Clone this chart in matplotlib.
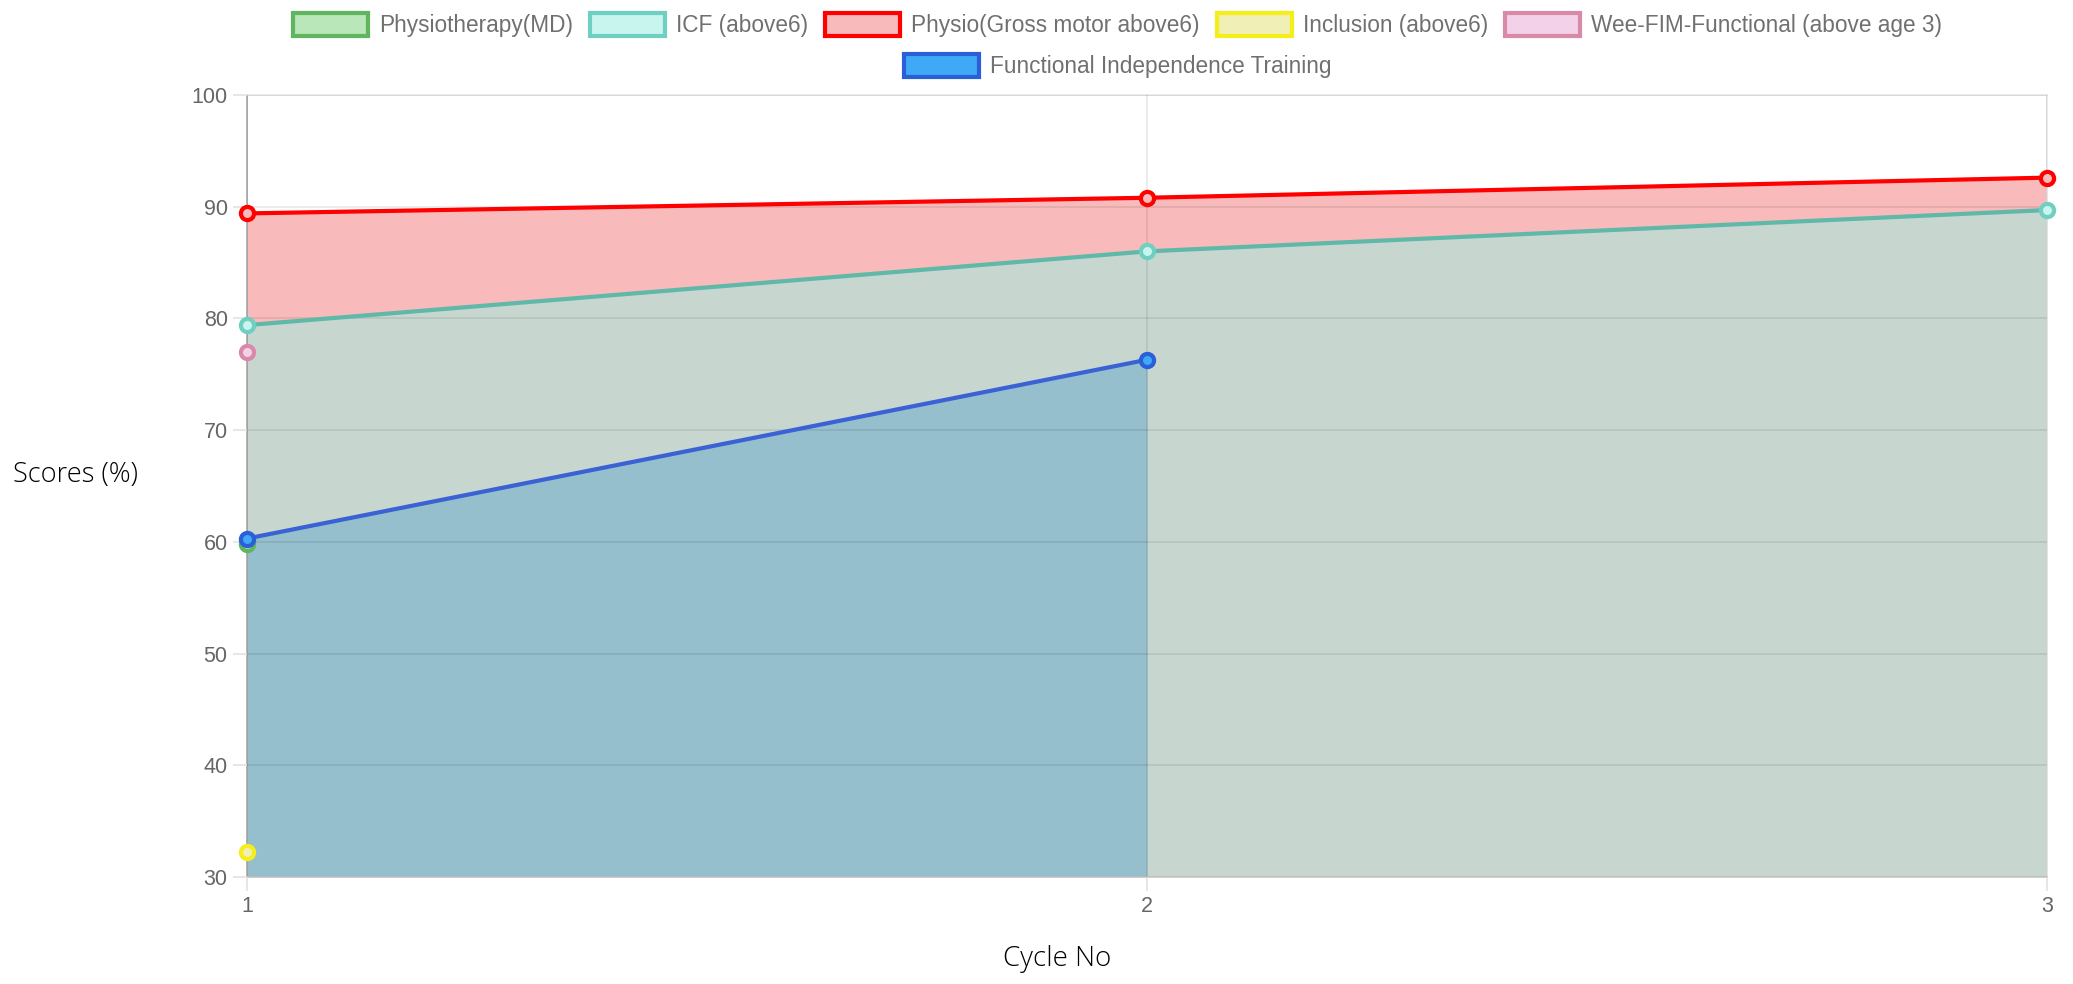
import matplotlib
matplotlib.use("Agg")
import matplotlib.pyplot as plt
from matplotlib.patches import Patch

# data
cycles = [1, 2, 3]
physio_md = [59.8]
icf = [79.4, 86.0, 89.7]
physio_gross = [89.4, 90.8, 92.6]
inclusion = [32.2]
wee_fim = [77.0]
fit = [60.3, 76.3]

y_ticks = [30, 40, 50, 60, 70, 80, 90, 100]

labels = ["Physiotherapy(MD)", "ICF (above6)", "Physio(Gross motor above6)",
          "Inclusion (above6)", "Wee-FIM-Functional (above age 3)",
          "Functional Independence Training"]
edge_colors = ["#5fb65f", "#6fd0c2", "#ff0000", "#f4ee1a", "#d98aa8", "#2a5fd8"]
face_colors = ["#b9e7b9", "#c9f5ef", "#f8baba", "#f0efb5", "#f3d1e8", "#3fa9f5"]

plt.rcParams['font.family'] = ['Liberation Sans', 'DejaVu Sans']

fig = plt.figure(figsize=(20.73, 9.84), dpi=100)
ax = fig.add_axes([0.1192, 0.1087, 0.8683, 0.7948])

# area fills (flattened colours of the stacked translucent fills)
ax.fill_between(cycles, physio_gross, 30, color="#f8baba", lw=0, zorder=1)
ax.fill_between(cycles, icf, 30, color="#c7d7d0", lw=0, zorder=1.1)
ax.fill_between(cycles[:len(fit)], fit, 30, color="#96bfcd", lw=0, zorder=1.2)

series = [physio_md, icf, physio_gross, inclusion, wee_fim, fit]
line_colors = ["#5fb65f", "#5fb8a8", "#ff0000", "#f4ee1a", "#d98aa8", "#3b62d4"]
for i, vals in enumerate(series):
    xs = cycles[:len(vals)]
    ax.plot(xs, vals, color=line_colors[i], lw=3, zorder=3 + i * 0.1,
            marker="o", ms=9.5, mec=edge_colors[i], mfc=face_colors[i], mew=3,
            clip_on=False)

ax.set_xlim(1, 3)
ax.set_ylim(30, 100)
ax.set_xticks(cycles)
ax.set_yticks(y_ticks)
ax.set_axisbelow(False)
ax.grid(True, color="black", alpha=0.09, lw=1.2)
ax.tick_params(colors="#e2e2e2", labelcolor="#666666", labelsize=15.5,
               length=10, width=1.2, pad=4)
for side in ["top", "right"]:
    ax.spines[side].set_color("#e6e6e6")
ax.spines["left"].set_color("#a8a8a8")
ax.spines["bottom"].set_color("#cfcfcf")
for sp in ax.spines.values():
    sp.set_linewidth(1.2)

fig.text(0.0362, 0.517, "Scores (%)", fontsize=19.5, family="Open Sans",
         weight="light", color="#000000", ha="center", va="center")
fig.text(0.510, 0.025, "Cycle No", fontsize=20, family="Open Sans",
         weight="light", color="#000000", ha="center", va="center")

# legend: five on the first row, one centred on the second
handles = [Patch(facecolor=face_colors[i], edgecolor=edge_colors[i], lw=3)
           for i in range(len(labels))]
common = dict(frameon=False, fontsize=16.3, labelcolor="#707070",
              handlelength=3.3, handleheight=1.2, handletextpad=0.5,
              columnspacing=0.75, borderaxespad=0)
fig.legend(handles[:5], labels[:5], ncol=5, loc="center",
           bbox_to_anchor=(0.5392, 0.9746), **common)
fig.legend(handles[5:], labels[5:], ncol=1, loc="center",
           bbox_to_anchor=(0.5392, 0.933), **common)

fig.savefig("out.png", dpi=100)
